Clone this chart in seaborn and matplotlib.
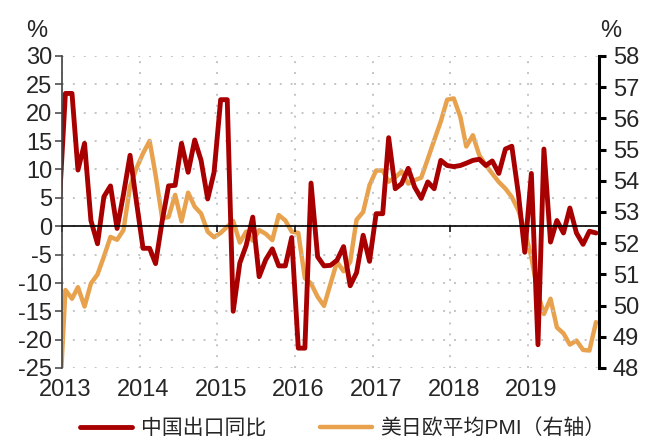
import matplotlib
matplotlib.use("Agg")
import matplotlib.pyplot as plt
import matplotlib.dates as mdates
import matplotlib.transforms as mtransforms
import pandas as pd
import seaborn as sns

sns.set_style("white")
plt.rcParams["font.family"] = ["Liberation Sans", "Noto Sans CJK SC"]
plt.rcParams["axes.unicode_minus"] = False

RED = "#A80000"
ORANGE = "#E8A24E"
GRID = "#C4C4C4"

# 2012-12 ~ 2019-11, 월별 (12월 2012는 축 왼쪽에서 잘림)
months = pd.date_range("2012-12-01", "2019-11-01", freq="MS") + pd.Timedelta(days=16)

export_yoy = [
    2.4,
    23.4, 23.4, 9.9, 14.6, 1.0, -3.1, 5.2, 7.1, -0.4, 5.6, 12.5, 4.3,
    -3.9, -3.9, -6.6, 0.9, 7.1, 7.2, 14.6, 9.5, 15.2, 11.6, 4.8, 9.5,
    22.3, 22.3, -15.0, -6.5, -3.4, 1.6, -8.9, -5.9, -4.0, -7.0, -7.0, -2.0,
    -21.5, -21.5, 7.6, -5.4, -7.0, -6.9, -6.0, -3.6, -10.5, -8.2, -1.6, -6.2,
    2.2, 2.2, 15.6, 6.6, 7.5, 10.2, 6.9, 4.9, 7.8, 6.6, 11.6, 10.7,
    10.5, 10.7, 11.1, 11.6, 11.8, 10.7, 11.5, 9.3, 13.6, 14.1, 5.7, -4.6,
    9.3, -20.9, 13.6, -2.8, 1.0, -1.2, 3.2, -1.2, -3.2, -0.9, -1.2,
]

pmi_avg = [
    46.4,
    50.50, 50.22, 50.59, 49.97, 50.71, 51.00, 51.57, 52.20, 52.11, 52.42, 53.82, 54.40,
    54.88, 55.28, 54.19, 52.80, 52.84, 53.55, 52.70, 53.62, 53.17, 52.95, 52.37, 52.19,
    52.33, 52.53, 52.71, 52.02, 52.37, 52.08, 52.42, 52.30, 52.10, 52.90, 52.73, 52.37,
    52.33, 50.88, 50.71, 50.28, 49.99, 50.71, 51.40, 51.10, 51.40, 52.75, 53.00, 53.86,
    54.33, 54.33, 53.97, 54.11, 54.30, 53.91, 54.02, 54.10, 54.70, 55.30, 55.90, 56.60,
    56.64, 56.05, 55.10, 55.46, 54.82, 54.50, 54.23, 53.96, 53.75, 53.48, 53.05, 52.40,
    51.55, 50.38, 49.73, 50.22, 49.30, 49.11, 48.75, 48.88, 48.58, 48.56, 49.47,
]

years = list(range(2013, 2020))
left_ticks = list(range(-25, 31, 5))
right_ticks = list(range(48, 59))

label_export = "中国出口同比"
label_pmi = "美日欧平均PMI（右轴）"

df = pd.DataFrame({"month": months, "export": export_yoy, "pmi": pmi_avg})

fig = plt.figure(figsize=(6.56, 4.41), dpi=100)
ax = fig.add_axes([62 / 656, 1 - 368 / 441, (599 - 62) / 656, (368 - 56) / 441])
ax2 = ax.twinx()

# 빨간 선이 주황 선 위에 오도록
ax.set_zorder(ax2.get_zorder() + 1)
ax.patch.set_visible(False)

sns.lineplot(data=df, x="month", y="pmi", ax=ax2, color=ORANGE, lw=3.2,
             label=label_pmi, legend=False)
sns.lineplot(data=df, x="month", y="export", ax=ax, color=RED, lw=3.5,
             label=label_export, legend=False)

ax.set_xlim(pd.Timestamp("2013-01-01"), pd.Timestamp("2019-12-01"))
ax.set_ylim(-25, 30)
ax2.set_ylim(48, 58)
ax.set_yticks(left_ticks)
ax2.set_yticks(right_ticks)
ax.set_xticks([pd.Timestamp(f"{y}-01-01") for y in years])

ax.set_xlabel("")
ax.set_ylabel("")
ax2.set_ylabel("")

# 점선 그리드
dot = (0, (1, 4.6))
ax.yaxis.grid(True, linestyle=dot, color=GRID, lw=1.4)
ax.xaxis.grid(True, linestyle=dot, color=GRID, lw=1.4)
ax2.grid(False)

# x축은 0 위치에
ax.spines["bottom"].set_position(("data", 0))
ax.spines["bottom"].set_color("black")
ax.spines["bottom"].set_linewidth(1.2)
ax.spines["top"].set_visible(False)
ax.spines["right"].set_visible(False)
ax.spines["left"].set_color("#404040")
ax.spines["left"].set_linewidth(1.2)

for side in ["top", "left", "bottom"]:
    ax2.spines[side].set_visible(False)
ax2.spines["right"].set_color("black")
ax2.spines["right"].set_linewidth(2.2)

ax.tick_params(axis="x", which="both", direction="out", length=4, width=1.1,
               color="black", labelbottom=False, bottom=True)
ax.tick_params(axis="y", direction="out", length=5, width=1.1, color="#404040",
               labelsize=17, pad=2, left=True)
ax2.tick_params(axis="y", direction="out", length=5, width=2.2, color="black",
                labelsize=17, pad=5, right=True)

# 연도 라벨은 그래프 아래쪽에
trans = mtransforms.blended_transform_factory(ax.transData, ax.transAxes)
for y in years:
    ax.text(mdates.date2num(pd.Timestamp(f"{y}-01-18")), -0.072, str(y),
            transform=trans, ha="center", va="center", fontsize=17)

fig.text(37 / 656, 1 - 31 / 441, "%", ha="center", va="center", fontsize=17)
fig.text(611 / 656, 1 - 31 / 441, "%", ha="center", va="center", fontsize=17)

handles = ax.get_lines()[:1] + ax2.get_lines()[:1]
fig.legend(handles, [label_export, label_pmi], loc="center",
           bbox_to_anchor=(343 / 656, 1 - 428 / 441), ncol=2, frameon=False,
           fontsize=15, handlelength=2.5, columnspacing=2.6, handletextpad=0.4,
           borderpad=0.1)

fig.savefig("out.png", dpi=100)
